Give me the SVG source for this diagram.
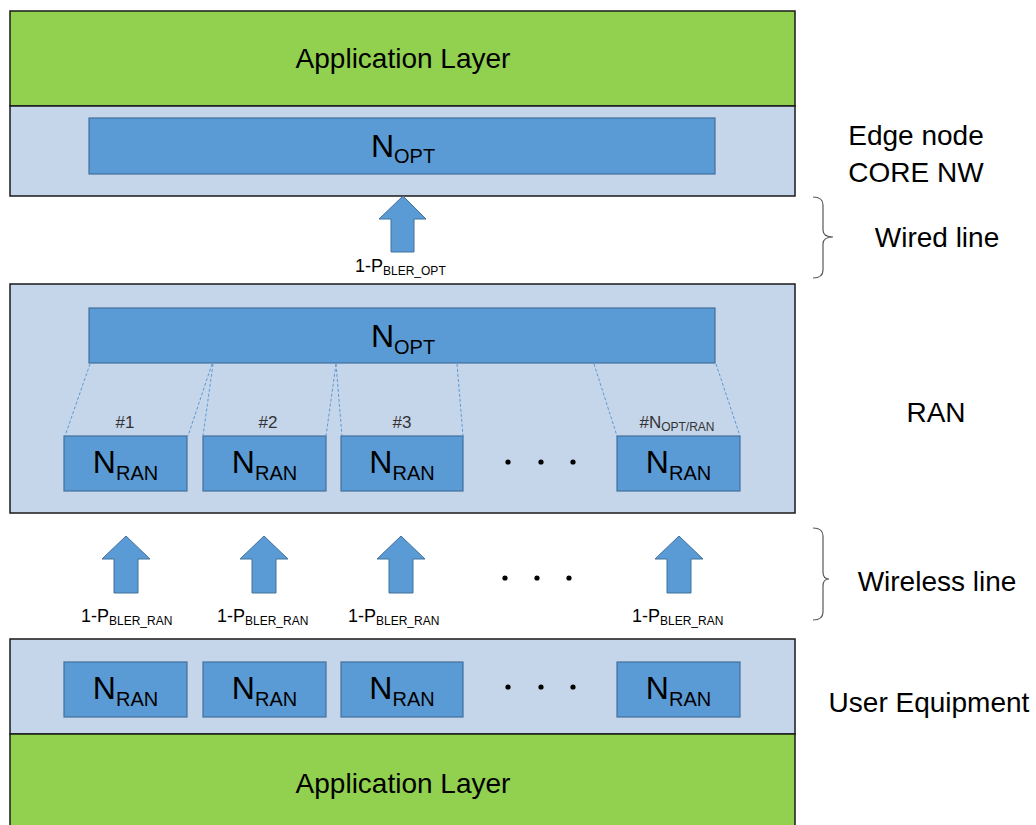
<svg xmlns="http://www.w3.org/2000/svg" width="1036" height="825" viewBox="0 0 1036 825">
<defs>
<style>
.green{fill:#92D050;stroke:#1a1a1a;stroke-width:1.5}
.lb{fill:#C5D5EA;stroke:#1a1a1a;stroke-width:1.5}
.node{fill:#5B9BD5;stroke:#41719C;stroke-width:1.2}
.arrow{fill:#5B9BD5;stroke:#41719C;stroke-width:1}
.dash{stroke:#5B9BD5;stroke-width:1;stroke-dasharray:3,2;fill:none}
.brace{stroke:#595959;stroke-width:1.2;fill:none}
text{font-family:"Liberation Sans",Arial,sans-serif;fill:#000}
.big{font-size:28px}
.side{font-size:28px}
.n{font-size:32px}
.sub{font-size:20px}
.hash{font-size:17px;fill:#333}
.p{font-size:18px}
.ps{font-size:12px}
</style>
<g id="dot"><circle r="2.6" fill="#000"/></g>
</defs>

<g id="top-app">
<rect class="green" x="10" y="11" width="785" height="95"/>
<text class="big" x="403" y="68" text-anchor="middle">Application Layer</text>
</g>
<g id="edge-node">
<rect class="lb" x="10" y="106" width="785" height="90"/>
<rect class="node" x="89" y="118" width="626" height="56"/>
<text x="403" y="157" text-anchor="middle"><tspan class="n">N</tspan><tspan class="sub" dy="6">OPT</tspan></text>
</g>

<g id="ran">
<rect class="lb" x="10" y="284" width="785" height="229"/>
<rect class="node" x="89" y="308" width="626" height="55"/>
<text x="403" y="347" text-anchor="middle"><tspan class="n">N</tspan><tspan class="sub" dy="7">OPT</tspan></text>
</g>
<g id="ran-node-1">
<rect class="node" x="64" y="436" width="123" height="55"/>
<text x="125.5" y="473" text-anchor="middle"><tspan class="n">N</tspan><tspan class="sub" dy="7">RAN</tspan></text>
<text class="hash" x="125" y="428" text-anchor="middle">#1</text>
</g>
<g id="ran-node-2">
<rect class="node" x="203" y="436" width="123" height="55"/>
<text x="264.5" y="473" text-anchor="middle"><tspan class="n">N</tspan><tspan class="sub" dy="7">RAN</tspan></text>
<text class="hash" x="268" y="428" text-anchor="middle">#2</text>
</g>
<g id="ran-node-3">
<rect class="node" x="341" y="436" width="122" height="55"/>
<text x="402" y="473" text-anchor="middle"><tspan class="n">N</tspan><tspan class="sub" dy="7">RAN</tspan></text>
<text class="hash" x="402" y="428" text-anchor="middle">#3</text>
</g>
<g id="ran-node-n">
<rect class="node" x="617" y="436" width="123" height="55"/>
<text x="678.5" y="473" text-anchor="middle"><tspan class="n">N</tspan><tspan class="sub" dy="7">RAN</tspan></text>
<text x="677" y="428" text-anchor="middle"><tspan class="hash">#N</tspan><tspan class="ps" fill="#333" dy="3">OPT/RAN</tspan></text>
</g>
<g id="ran-dots">
<use href="#dot" x="508" y="462"/><use href="#dot" x="541" y="462"/><use href="#dot" x="573" y="462"/>
</g>

<g id="ue">
<rect class="lb" x="10" y="639" width="785" height="95"/>
</g>
<g id="ue-node-1">
<rect class="node" x="64" y="662" width="123" height="55"/>
<text x="125.5" y="699" text-anchor="middle"><tspan class="n">N</tspan><tspan class="sub" dy="7">RAN</tspan></text>
</g>
<g id="ue-node-2">
<rect class="node" x="203" y="662" width="123" height="55"/>
<text x="264.5" y="699" text-anchor="middle"><tspan class="n">N</tspan><tspan class="sub" dy="7">RAN</tspan></text>
</g>
<g id="ue-node-3">
<rect class="node" x="341" y="662" width="122" height="55"/>
<text x="402" y="699" text-anchor="middle"><tspan class="n">N</tspan><tspan class="sub" dy="7">RAN</tspan></text>
</g>
<g id="ue-node-n">
<rect class="node" x="617" y="662" width="123" height="55"/>
<text x="678.5" y="699" text-anchor="middle"><tspan class="n">N</tspan><tspan class="sub" dy="7">RAN</tspan></text>
</g>
<g id="ue-dots">
<use href="#dot" x="508" y="687"/><use href="#dot" x="541" y="687"/><use href="#dot" x="573" y="687"/>
</g>

<g id="bottom-app">
<rect class="green" x="10" y="734" width="785" height="100"/>
<text class="big" x="403" y="793" text-anchor="middle">Application Layer</text>
</g>

<g id="connectors">
<line class="dash" x1="90" y1="364" x2="65" y2="436"/>
<line class="dash" x1="212" y1="364" x2="188" y2="436"/>
<line class="dash" x1="213" y1="364" x2="203" y2="436"/>
<line class="dash" x1="336" y1="364" x2="326" y2="436"/>
<line class="dash" x1="336" y1="364" x2="342" y2="436"/>
<line class="dash" x1="457" y1="364" x2="463" y2="436"/>
<line class="dash" x1="594" y1="364" x2="617" y2="436"/>
<line class="dash" x1="716" y1="364" x2="740" y2="436"/>

<path class="arrow" d="M403,196 L426,219 L414,219 L414,252 L391,252 L391,219 L379,219 Z"/>
<path class="arrow" d="M126,536 L150,559 L138,559 L138,593 L114,593 L114,559 L102,559 Z"/>
<path class="arrow" d="M264,536 L288,559 L276,559 L276,593 L252,593 L252,559 L240,559 Z"/>
<path class="arrow" d="M401,536 L425,559 L413,559 L413,593 L389,593 L389,559 L377,559 Z"/>
<path class="arrow" d="M679,536 L703,559 L691,559 L691,593 L667,593 L667,559 L655,559 Z"/>
</g>

<g id="labels">
<text x="355" y="272"><tspan class="p">1-P</tspan><tspan class="ps" dy="3">BLER_OPT</tspan></text>
<text x="81" y="622"><tspan class="p">1-P</tspan><tspan class="ps" dy="3">BLER_RAN</tspan></text>
<text x="217" y="622"><tspan class="p">1-P</tspan><tspan class="ps" dy="3">BLER_RAN</tspan></text>
<text x="348" y="622"><tspan class="p">1-P</tspan><tspan class="ps" dy="3">BLER_RAN</tspan></text>
<text x="632" y="622"><tspan class="p">1-P</tspan><tspan class="ps" dy="3">BLER_RAN</tspan></text>
<use href="#dot" x="505" y="578"/><use href="#dot" x="537" y="578"/><use href="#dot" x="569" y="578"/>
</g>

<g id="side-labels">
<text class="side" x="916" y="145" text-anchor="middle">Edge node</text>
<text class="side" x="916" y="182" text-anchor="middle">CORE NW</text>
<path class="brace" d="M813,197 Q823,197 823,205 L823,230 Q823,237 833,237 Q823,237 823,244 L823,270 Q823,278 813,278"/>
<text class="side" x="937" y="247" text-anchor="middle">Wired line</text>
<text class="side" x="936" y="422" text-anchor="middle">RAN</text>
<path class="brace" d="M813,528 Q823,528 823,536 L823,572 Q823,579 829,579 Q823,579 823,586 L823,612 Q823,620 813,620"/>
<text class="side" x="937" y="591" text-anchor="middle">Wireless line</text>
<text class="side" x="929" y="712" text-anchor="middle">User Equipment</text>
</g>
</svg>
